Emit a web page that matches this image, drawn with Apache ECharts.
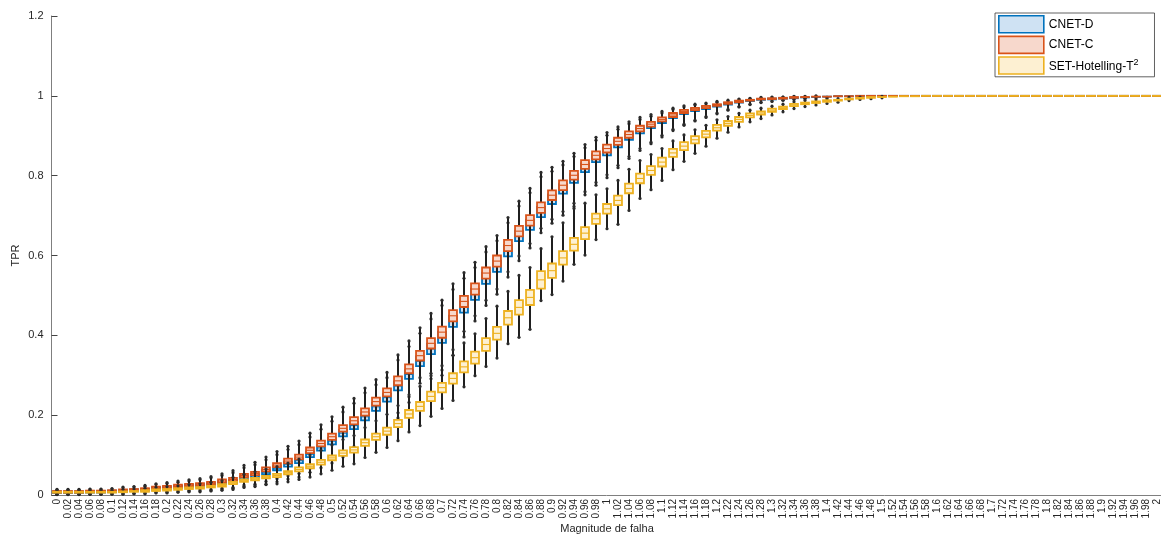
<!DOCTYPE html>
<html>
<head>
<meta charset="utf-8">
<title>TPR vs Magnitude de falha</title>
<script src="https://cdn.jsdelivr.net/npm/echarts@6/dist/echarts.min.js"></script>
<style>
  html, body { margin: 0; padding: 0; background: #fff; }
  #chart { width: 1161px; height: 535px; }
</style>
</head>
<body>
<div id="chart"></div>
<script>
// Fault magnitudes (x categories)
const magnitudes = ['0','0.02','0.04','0.06','0.08','0.1','0.12','0.14','0.16','0.18',
  '0.2','0.22','0.24','0.26','0.28','0.3','0.32','0.34','0.36','0.38',
  '0.4','0.42','0.44','0.46','0.48','0.5','0.52','0.54','0.56','0.58',
  '0.6','0.62','0.64','0.66','0.68','0.7','0.72','0.74','0.76','0.78',
  '0.8','0.82','0.84','0.86','0.88','0.9','0.92','0.94','0.96','0.98',
  '1','1.02','1.04','1.06','1.08','1.1','1.12','1.14','1.16','1.18',
  '1.2','1.22','1.24','1.26','1.28','1.3','1.32','1.34','1.36','1.38',
  '1.4','1.42','1.44','1.46','1.48','1.5','1.52','1.54','1.56','1.58',
  '1.6','1.62','1.64','1.66','1.68','1.7','1.72','1.74','1.76','1.78',
  '1.8','1.82','1.84','1.86','1.88','1.9','1.92','1.94','1.96','1.98',
  '2'];

const yTicks = [0, 0.2, 0.4, 0.6, 0.8, 1, 1.2];

// Median TPR per magnitude
const cnetDMedian = [0.007,0.007,0.007,0.008,0.008,0.009,0.010,0.012,0.013,0.016,
  0.018,0.020,0.022,0.024,0.027,0.031,0.034,0.043,0.048,0.057,
  0.067,0.077,0.086,0.102,0.118,0.135,0.155,0.174,0.196,0.221,
  0.244,0.273,0.302,0.335,0.366,0.395,0.435,0.471,0.503,0.543,
  0.573,0.612,0.649,0.677,0.709,0.741,0.767,0.793,0.820,0.844,
  0.861,0.880,0.898,0.913,0.925,0.937,0.949,0.958,0.965,0.970,
  0.975,0.980,0.985,0.988,0.991,0.992,0.994,0.995,0.996,0.997,
  0.998,0.999,0.999,1,1,1,1,1,1,1,
  1,1,1,1,1,1,1,1,1,1,
  1,1,1,1,1,1,1,1,1,1,
  1];

const cnetCMedian = [0.008,0.008,0.008,0.009,0.009,0.010,0.012,0.013,0.015,0.018,
  0.020,0.023,0.025,0.027,0.030,0.035,0.039,0.049,0.054,0.064,
  0.075,0.085,0.095,0.112,0.129,0.146,0.167,0.186,0.208,0.234,
  0.257,0.286,0.316,0.349,0.380,0.408,0.449,0.485,0.516,0.556,
  0.586,0.625,0.661,0.688,0.720,0.751,0.776,0.801,0.828,0.851,
  0.868,0.886,0.903,0.918,0.929,0.941,0.952,0.961,0.967,0.972,
  0.977,0.982,0.986,0.989,0.992,0.993,0.994,0.996,0.997,0.998,
  0.998,0.999,0.999,1,1,1,1,1,1,1,
  1,1,1,1,1,1,1,1,1,1,
  1,1,1,1,1,1,1,1,1,1,
  1];

const setMedian = [0.007,0.007,0.007,0.007,0.007,0.007,0.008,0.009,0.010,0.012,
  0.013,0.015,0.017,0.018,0.021,0.024,0.030,0.036,0.040,0.045,
  0.049,0.056,0.064,0.072,0.082,0.093,0.105,0.113,0.131,0.146,
  0.160,0.179,0.203,0.222,0.247,0.269,0.292,0.321,0.344,0.377,
  0.405,0.444,0.470,0.495,0.539,0.562,0.594,0.628,0.656,0.692,
  0.717,0.738,0.768,0.793,0.813,0.834,0.857,0.874,0.890,0.904,
  0.920,0.931,0.941,0.951,0.957,0.964,0.970,0.977,0.981,0.984,
  0.987,0.989,0.992,0.994,0.996,0.997,0.998,0.999,0.999,1,
  1,1,1,1,1,1,1,1,1,1,
  1,1,1,1,1,1,1,1,1,1,
  1];

// Half interquartile range (both CNET variants)
const cnetHalfIqr = [0.002,0.002,0.002,0.002,0.002,0.002,0.002,0.002,0.002,0.003,
  0.003,0.003,0.003,0.003,0.003,0.004,0.004,0.004,0.004,0.005,
  0.005,0.006,0.006,0.007,0.007,0.008,0.008,0.009,0.009,0.010,
  0.010,0.011,0.011,0.012,0.013,0.014,0.014,0.014,0.014,0.014,
  0.014,0.014,0.013,0.013,0.013,0.012,0.012,0.011,0.011,0.010,
  0.010,0.009,0.008,0.007,0.006,0.005,0.005,0.004,0.003,0.003,
  0.002,0.002,0.002,0.001,0.001,0.001,0.001,0.001,0,0,
  0,0,0,0,0,0,0,0,0,0,
  0,0,0,0,0,0,0,0,0,0,
  0,0,0,0,0,0,0,0,0,0,
  0];

const setHalfIqr = [0.001,0.001,0.001,0.001,0.001,0.001,0.001,0.001,0.002,0.002,
  0.002,0.002,0.002,0.002,0.002,0.003,0.003,0.003,0.003,0.003,
  0.004,0.004,0.005,0.005,0.006,0.006,0.007,0.007,0.008,0.008,
  0.009,0.009,0.010,0.011,0.012,0.012,0.013,0.014,0.015,0.016,
  0.016,0.017,0.018,0.019,0.022,0.018,0.017,0.016,0.015,0.013,
  0.012,0.012,0.012,0.012,0.011,0.011,0.010,0.010,0.009,0.008,
  0.007,0.006,0.006,0.005,0.004,0.004,0.003,0.003,0.002,0.002,
  0.002,0.001,0.001,0.001,0.001,0,0,0,0,0,
  0,0,0,0,0,0,0,0,0,0,
  0,0,0,0,0,0,0,0,0,0,
  0];

// Whisker reach below / above the median
const cnetWhiskerLow = [0.006,0.006,0.006,0.006,0.006,0.006,0.007,0.008,0.009,0.010,
  0.011,0.012,0.013,0.014,0.016,0.018,0.020,0.024,0.027,0.030,
  0.034,0.037,0.041,0.045,0.050,0.055,0.060,0.065,0.070,0.080,
  0.090,0.080,0.070,0.055,0.075,0.095,0.085,0.075,0.067,0.068,
  0.070,0.066,0.062,0.058,0.052,0.060,0.066,0.070,0.068,0.068,
  0.066,0.060,0.055,0.050,0.045,0.040,0.036,0.032,0.028,0.024,
  0.020,0.016,0.013,0.010,0.008,0.006,0.005,0.004,0.003,0.002,
  0.002,0.001,0.001,0,0,0,0,0,0,0,
  0,0,0,0,0,0,0,0,0,0,
  0,0,0,0,0,0,0,0,0,0,
  0];

const cnetWhiskerHigh = [0.006,0.006,0.006,0.006,0.006,0.006,0.008,0.008,0.009,0.010,
  0.011,0.012,0.013,0.014,0.016,0.018,0.022,0.025,0.028,0.031,
  0.034,0.037,0.040,0.043,0.047,0.050,0.053,0.056,0.060,0.055,
  0.050,0.065,0.070,0.070,0.075,0.080,0.080,0.072,0.067,0.066,
  0.064,0.070,0.075,0.080,0.088,0.070,0.060,0.055,0.050,0.045,
  0.040,0.036,0.032,0.028,0.024,0.020,0.017,0.014,0.012,0.010,
  0.009,0.007,0.006,0.005,0.004,0.004,0.003,0.003,0.002,0.002,
  0.001,0.001,0,0,0,0,0,0,0,0,
  0,0,0,0,0,0,0,0,0,0,
  0,0,0,0,0,0,0,0,0,0,
  0];

const setWhiskerLow = [0.005,0.005,0.005,0.005,0.005,0.005,0.006,0.006,0.007,0.007,
  0.008,0.008,0.009,0.010,0.011,0.012,0.013,0.015,0.017,0.019,
  0.021,0.023,0.025,0.027,0.029,0.031,0.033,0.035,0.037,0.039,
  0.041,0.043,0.045,0.048,0.050,0.052,0.055,0.050,0.045,0.055,
  0.062,0.065,0.075,0.080,0.052,0.060,0.058,0.050,0.055,0.052,
  0.050,0.060,0.055,0.050,0.048,0.046,0.042,0.038,0.034,0.030,
  0.026,0.022,0.019,0.016,0.014,0.012,0.010,0.009,0.008,0.007,
  0.006,0.005,0.004,0.003,0.003,0.002,0.001,0.001,0,0,
  0,0,0,0,0,0,0,0,0,0,
  0,0,0,0,0,0,0,0,0,0,
  0];

const setWhiskerHigh = [0.005,0.005,0.005,0.005,0.005,0.005,0.006,0.006,0.007,0.007,
  0.008,0.008,0.009,0.010,0.011,0.012,0.014,0.016,0.018,0.020,
  0.022,0.024,0.026,0.028,0.030,0.032,0.034,0.036,0.038,0.040,
  0.042,0.045,0.048,0.050,0.052,0.055,0.058,0.060,0.060,0.065,
  0.068,0.066,0.080,0.075,0.078,0.085,0.088,0.090,0.075,0.060,
  0.050,0.050,0.048,0.045,0.040,0.034,0.030,0.028,0.025,0.022,
  0.020,0.017,0.015,0.013,0.012,0.010,0.009,0.008,0.007,0.006,
  0.005,0.004,0.004,0.003,0.002,0.002,0.001,0,0,0,
  0,0,0,0,0,0,0,0,0,0,
  0,0,0,0,0,0,0,0,0,0,
  0];

const seriesNames = ['CNET-D', 'CNET-C', 'SET-Hotelling-T²'];
const strokeColors = ['#0072BD', '#D95319', '#EDB120'];
const fillColors = ['#cfe2f3', '#f7d8cc', '#fdf0d2'];

// Rows of [categoryIndex, low whisker, Q1, median, Q3, high whisker]
function boxRows(median, halfIqr, whiskLow, whiskHigh) {
  return median.map(function (m, i) {
    const q1 = Math.max(0, m - halfIqr[i]);
    const q3 = Math.min(1, m + halfIqr[i]);
    const lo = Math.min(q1, Math.max(0, m - whiskLow[i]));
    const hi = Math.max(q3, Math.min(1, m + whiskHigh[i]));
    return [i, lo, q1, m, q3, hi];
  });
}

const rows = [
  boxRows(cnetDMedian, cnetHalfIqr, cnetWhiskerLow, cnetWhiskerHigh),
  boxRows(cnetCMedian, cnetHalfIqr, cnetWhiskerLow, cnetWhiskerHigh),
  boxRows(setMedian, setHalfIqr, setWhiskerLow, setWhiskerHigh)
];

function boxRenderer(stroke, fill) {
  return function (params, api) {
    const idx = api.value(0);
    const band = api.size([1, 0])[0];
    const half = band * 0.36;
    const pLo = api.coord([idx, api.value(1)]);
    const pQ1 = api.coord([idx, api.value(2)]);
    const pMed = api.coord([idx, api.value(3)]);
    const pQ3 = api.coord([idx, api.value(4)]);
    const pHi = api.coord([idx, api.value(5)]);
    const cx = pMed[0];
    const whisker = { stroke: '#1f1f1f', lineWidth: 2 };
    const dot = { fill: '#2b2b2b' };
    const children = [];
    if (pLo[1] - pQ1[1] > 0.5) {
      children.push({ type: 'line', shape: { x1: cx, y1: pQ1[1], x2: cx, y2: pLo[1] }, style: whisker });
      children.push({ type: 'circle', shape: { cx: cx, cy: pLo[1], r: 1.6 }, style: dot });
    }
    if (pQ3[1] - pHi[1] > 0.5) {
      children.push({ type: 'line', shape: { x1: cx, y1: pQ3[1], x2: cx, y2: pHi[1] }, style: whisker });
      children.push({ type: 'circle', shape: { cx: cx, cy: pHi[1], r: 1.6 }, style: dot });
    }
    children.push({
      type: 'rect',
      shape: { x: cx - half, y: pQ3[1], width: half * 2, height: Math.max(pQ1[1] - pQ3[1], 0.01) },
      style: { fill: fill, stroke: stroke, lineWidth: 1.8 }
    });
    children.push({
      type: 'line',
      shape: { x1: cx - half, y1: pMed[1], x2: cx + half, y2: pMed[1] },
      style: { stroke: stroke, lineWidth: 1.1 }
    });
    return { type: 'group', children: children };
  };
}

const chart = echarts.init(document.getElementById('chart'), null, { renderer: 'canvas' });

const axisText = '#262626';
const axisLineColor = '#7f7f7f';

chart.setOption({
  animation: false,
  backgroundColor: '#ffffff',
  textStyle: { fontFamily: '"Liberation Sans", Arial, Helvetica, sans-serif' },
  grid: { left: 51.5, right: -1.5, top: 16, bottom: 40, outerBoundsMode: 'none' },
  legend: {
    orient: 'vertical',
    left: 995,
    top: 13,
    padding: [2, 16, 2, 3],
    itemGap: 2,
    itemWidth: 45,
    itemHeight: 17,
    backgroundColor: '#ffffff',
    borderColor: '#3a3a3a',
    borderWidth: 0.8,
    icon: 'rect',
    textStyle: {
      fontSize: 12,
      color: '#000',
      rich: {
        base: { fontSize: 12, color: '#000', lineHeight: 15, verticalAlign: 'bottom' },
        sup: { fontSize: 9, color: '#000', lineHeight: 15, verticalAlign: 'top' }
      }
    },
    formatter: function (name) {
      return name === 'SET-Hotelling-T²' ? '{base|SET-Hotelling-T}{sup|2}' : name;
    },
    data: seriesNames.map(function (n, k) {
      return { name: n, itemStyle: { color: fillColors[k], borderColor: strokeColors[k], borderWidth: 1.6 } };
    })
  },
  xAxis: {
    type: 'category',
    data: magnitudes,
    boundaryGap: true,
    name: 'Magnitude de falha',
    nameLocation: 'middle',
    nameMoveOverlap: false,
    nameGap: 28,
    nameTextStyle: { fontSize: 11, color: axisText },
    axisLine: { lineStyle: { color: axisLineColor, width: 1 } },
    axisTick: { inside: true, alignWithLabel: true, interval: 0, length: 7, lineStyle: { color: '#444' } },
    axisLabel: { rotate: 90, interval: 0, fontSize: 10, color: axisText, margin: 4 },
    splitLine: { show: false }
  },
  yAxis: {
    type: 'value',
    min: yTicks[0],
    max: yTicks[yTicks.length - 1],
    interval: 0.2,
    name: 'TPR',
    nameLocation: 'middle',
    nameMoveOverlap: false,
    nameGap: 30,
    nameTextStyle: { fontSize: 11, color: axisText },
    axisLine: { show: true, lineStyle: { color: axisLineColor, width: 1 } },
    axisTick: { show: true, inside: true, length: 6, lineStyle: { color: '#444' } },
    axisLabel: { fontSize: 11, color: axisText, margin: 8 },
    splitLine: { show: false }
  },
  series: seriesNames.map(function (n, k) {
    return {
      name: n,
      type: 'custom',
      data: rows[k],
      encode: { x: 0, y: [1, 2, 3, 4, 5] },
      itemStyle: { color: fillColors[k], borderColor: strokeColors[k] },
      renderItem: boxRenderer(strokeColors[k], fillColors[k]),
      z: 2 + k
    };
  })
});
</script>
</body>
</html>
